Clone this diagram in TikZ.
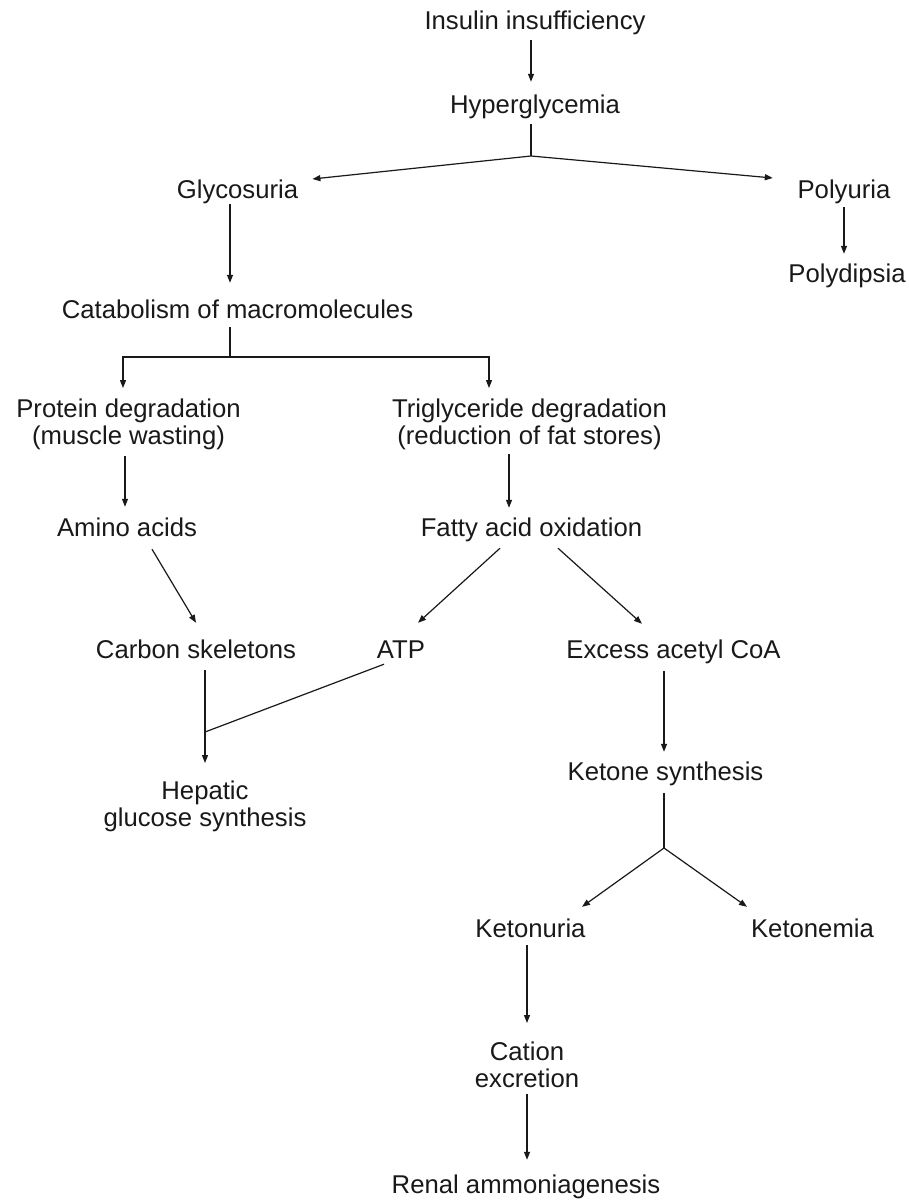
\documentclass[tikz,border=0pt]{standalone}
\usepackage{fontspec}
\setmainfont{Liberation Sans}
\usetikzlibrary{arrows.meta}
\begin{document}
\begin{tikzpicture}[x=1pt,y=-1pt,
  lbl/.style={inner sep=0pt, font=\fontsize{25.7pt}{27.5pt}\selectfont, text=black!90},
  one/.style={lbl, text height=18.4pt, text depth=5.4pt, anchor=base},
  two/.style={lbl, align=center, anchor=north},
  ln/.style={line width=1.2pt, draw=black!90},
  arr/.style={ln, -{Triangle[length=8pt,width=6pt]}}]
\useasboundingbox[fill=white] (0,0) rectangle (908,1201);
% nodes
\node[one] (ins) at (535,30) {Insulin insufficiency};
\node[one] (hyp) at (535,114) {Hyperglycemia};
\node[one] (gly) at (237.5,198) {Glycosuria};
\node[one] (polyu) at (844,198) {Polyuria};
\node[one] (polyd) at (847,282) {Polydipsia};
\node[one] (cat) at (237.5,318) {Catabolism of macromolecules};
\node[two] (prot) at (128.5,398.6) {Protein degradation\\(muscle wasting)};
\node[two] (trig) at (529.5,398.6) {Triglyceride degradation\\(reduction of fat stores)};
\node[one] (amino) at (127,536) {Amino acids};
\node[one] (fatty) at (531.5,536) {Fatty acid oxidation};
\node[one] (carbon) at (196,658) {Carbon skeletons};
\node[one] (atp) at (401,658) {ATP};
\node[one] (excess) at (673.5,658) {Excess acetyl CoA};
\node[one] (ket) at (665.5,780) {Ketone synthesis};
\node[two] (hep) at (205,780.6) {Hepatic\\glucose synthesis};
\node[one] (ketu) at (530.5,937) {Ketonuria};
\node[one] (ketm) at (812.5,937) {Ketonemia};
\node[two] (cation) at (527,1041.3) {Cation\\excretion};
\node[one] (renal) at (526,1193) {Renal ammoniagenesis};
% junctions
\coordinate (hj) at (531,156);
\coordinate (cj) at (230,357);
\coordinate (aj) at (205,732);
\coordinate (kj) at (664,848);
% connectors
\draw[arr] ([xshift=-4pt,yshift=-4.6pt]ins.south) -- ([xshift=-4pt,yshift=13.6pt]hyp.north);
\draw[ln] ([xshift=-4pt,yshift=-4.6pt]hyp.south) -- (hj);
\draw[arr] (hj) -- ([xshift=14pt,yshift=12.5pt]gly.east);
\draw[arr] (hj) -- ([xshift=-24.6pt,yshift=13.5pt]polyu.west);
\draw[arr] ([yshift=-3.6pt]polyu.south) -- ([xshift=-3pt,yshift=9.6pt]polyd.north);
\draw[arr] ([xshift=-7.5pt]gly.south) -- ([xshift=-7.5pt,yshift=16.6pt]cat.north);
\draw[ln] ([xshift=-7.5pt,yshift=-3.6pt]cat.south) -- (cj);
\draw[arr] (cj) -| ([xshift=-5.5pt,yshift=10.6pt]prot.north);
\draw[arr] (cj) -| ([xshift=-40.5pt,yshift=10.6pt]trig.north);
\draw[arr] ([xshift=-3.5pt,yshift=-5.6pt]prot.south) -- ([xshift=-2pt,yshift=10.6pt]amino.north);
\draw[arr] ([xshift=-20.5pt,yshift=-3.6pt]trig.south) -- ([xshift=-22.5pt,yshift=9.6pt]fatty.north);
\draw[arr] ([xshift=25pt,yshift=-7.6pt]amino.south) -- ([yshift=16.6pt]carbon.north);
\draw[arr] ([xshift=-31.5pt,yshift=-6.6pt]fatty.south) -- ([xshift=17pt,yshift=16.6pt]atp.north);
\draw[arr] ([xshift=26.5pt,yshift=-6.6pt]fatty.south) -- ([xshift=-31.5pt,yshift=15.6pt]excess.north);
\draw[arr] ([xshift=9pt,yshift=-6.6pt]carbon.south) -- ([yshift=17.6pt]hep.north);
\draw[ln] ([xshift=-17pt,yshift=-0.6pt]atp.south) -- (aj);
\draw[arr] ([xshift=-9.5pt,yshift=-7.6pt]excess.south) -- ([xshift=-1.5pt,yshift=9.6pt]ket.north);
\draw[ln] ([xshift=-1.5pt,yshift=-7.6pt]ket.south) -- (kj);
\draw[arr] (kj) -- ([xshift=51.5pt,yshift=11.6pt]ketu.north);
\draw[arr] (kj) -- ([xshift=-65.5pt,yshift=11.6pt]ketm.north);
\draw[arr] ([xshift=-3.5pt,yshift=-2.6pt]ketu.south) -- ([yshift=18.3pt]cation.north);
\draw[arr] ([yshift=-5.7pt]cation.south) -- ([xshift=1pt,yshift=14.6pt]renal.north);
\end{tikzpicture}
\end{document}
